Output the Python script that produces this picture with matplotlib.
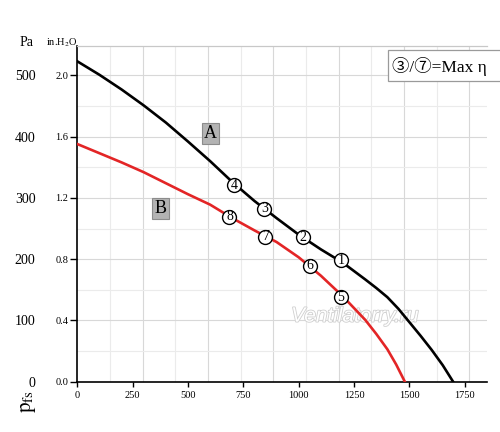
import numpy as np
import matplotlib
matplotlib.use('Agg')
import matplotlib.pyplot as plt
import matplotlib.patheffects as pe
from matplotlib.patches import Rectangle

plt.rcParams['font.family'] = ['Liberation Serif', 'Noto Sans CJK SC', 'DejaVu Sans']
plt.rcParams['mathtext.fontset'] = 'stix'

# curve A (black) - flow vs static pressure (Pa)
q_a = [0, 100, 200, 300, 400, 500, 600, 700, 800, 900, 1000, 1100, 1200, 1300,
       1350, 1400, 1450, 1500, 1550, 1600, 1650, 1697]
p_a = [523, 501, 477, 451, 423, 392, 360, 326, 295, 267, 240, 216, 194, 167,
       153, 138, 119, 97, 75, 52, 27, 0]

# curve B (red)
q_b = [0, 100, 200, 300, 400, 500, 600, 700, 800, 900, 1000, 1100, 1200, 1300,
       1350, 1400, 1440, 1479]
p_b = [388, 373, 358, 342, 324, 306, 289, 267, 247, 228, 203, 173, 139, 101,
       78, 53, 28, 0]

# operating points
pts_a_q = [1191, 1020, 845, 708]
pts_a_p = [198, 236, 282, 321]
pts_a_lab = ['1', '2', '3', '4']
pts_b_q = [1191, 1050, 849, 687]
pts_b_p = [138, 189, 237, 269]
pts_b_lab = ['5', '6', '7', '8']

x_ticks = [0, 250, 500, 750, 1000, 1250, 1500, 1750]
pa_ticks = [0, 100, 200, 300, 400, 500]
inh2o_labels = ['0.0', '0.4', '0.8', '1.2', '1.6', '2.0']

fig = plt.figure(figsize=(5, 4.32), dpi=100)
ax = fig.add_axes([0.1546, 0.1164, 0.8194, 0.7771])
ax.set_xlim(0, 1850)
ax.set_ylim(0, 548)

# grid
for k in range(1, 13):
    xg = 147.5 * k
    ax.axvline(xg, color='#d8d8d8' if k % 2 == 0 else '#ebebeb', lw=0.8, zorder=0)
for yg in range(50, 550, 50):
    ax.axhline(yg, color='#d8d8d8' if yg % 100 == 0 else '#ebebeb', lw=0.8, zorder=0)

ax.plot(q_a, p_a, color='black', lw=1.9, zorder=3)
ax.plot(q_b, p_b, color='#e32526', lw=1.9, zorder=3)

for qs, ps, labs in [(pts_a_q, pts_a_p, pts_a_lab), (pts_b_q, pts_b_p, pts_b_lab)]:
    ax.scatter(qs, ps, s=100, facecolor='white', edgecolor='black', lw=1.0, zorder=4)
    for q, p, lab in zip(qs, ps, labs):
        ax.text(q, p, lab, ha='center', va='center', fontsize=10, zorder=5)

box = dict(boxstyle='square,pad=0.12', fc='#b3b3b3', ec='#8c8c8c', lw=0.8)
ax.text(601, 405, 'A', ha='center', va='center', fontsize=13, bbox=box, zorder=5)
ax.text(376, 283, 'B', ha='center', va='center', fontsize=13, bbox=box, zorder=5)

# watermark
ax.text(1254, 107, 'Ventilatorry.ru', ha='center', va='center', fontsize=15,
        family='Liberation Sans', style='italic', color='white', zorder=2,
        path_effects=[pe.withStroke(linewidth=1.2, foreground='#cfcfcf')])

# axes styling
ax.spines['right'].set_visible(False)
ax.spines['top'].set_color('#c8c8c8')
ax.spines['top'].set_linewidth(0.9)
ax.spines['left'].set_linewidth(1.2)
ax.spines['bottom'].set_linewidth(1.2)

ax.set_xticks(x_ticks)
ax.set_xticklabels([str(v) for v in x_ticks])
ax.tick_params(axis='x', length=3.5, width=1, pad=3, labelsize=7.5)
ax.set_yticks(pa_ticks)
ax.set_yticklabels(inh2o_labels)
ax.tick_params(axis='y', length=5, width=1, pad=1.5, labelsize=7.5)

sec = ax.secondary_yaxis(-0.102)
sec.set_yticks(pa_ticks)
sec.set_yticklabels([str(v) for v in pa_ticks])
sec.spines['left'].set_visible(False)
sec.tick_params(axis='y', length=0, pad=0, labelsize=10)

fig.text(27 / 500, 1 - 43 / 432, 'Pa', ha='center', va='center', fontsize=10)
fig.text(62 / 500, 1 - 43 / 432, r'in.H$_2$O', ha='center', va='center', fontsize=7.5)
fig.text(29 / 500, 1 - 402 / 432, r'$\mathrm{p}_{\mathrm{fs}}$', ha='center', va='center',
         fontsize=15, rotation=90)

# max efficiency note
fig.patches.append(Rectangle((388 / 500, 1 - 81 / 432), 120 / 500, 31 / 432,
                             transform=fig.transFigure, fc='white', ec='#9a9a9a', lw=0.9,
                             zorder=6))
fig.text(392 / 500, 1 - 67 / 432, '③/⑦=Max η', ha='left', va='center', fontsize=12.5,
         zorder=7)

fig.savefig('out.png', dpi=100)
